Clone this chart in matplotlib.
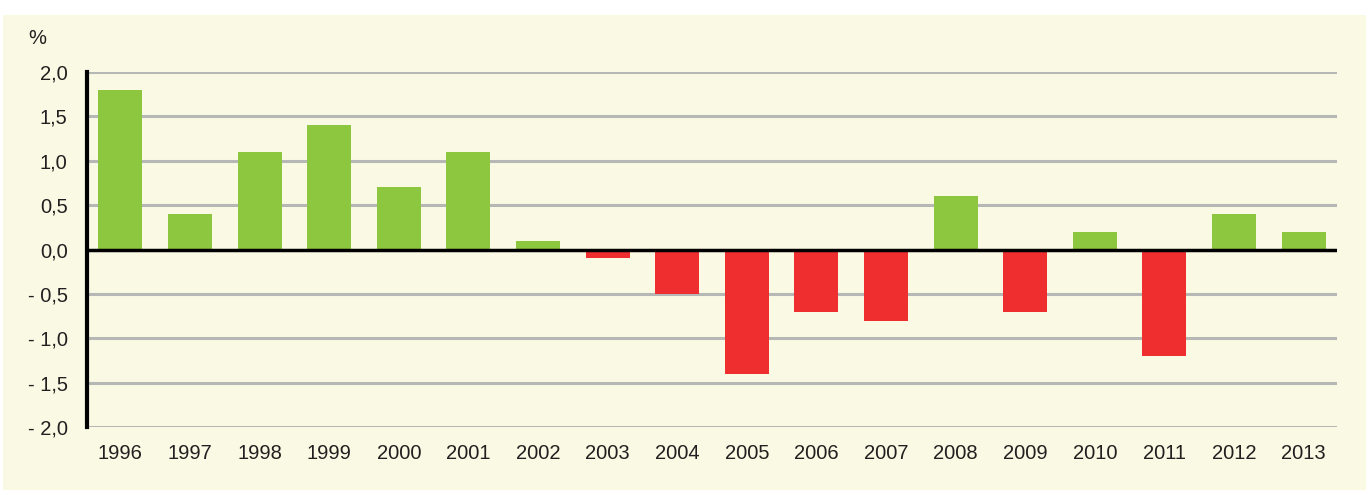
import matplotlib
matplotlib.use("Agg")
import matplotlib.pyplot as plt
from matplotlib.patches import Rectangle

plt.rcParams['font.family'] = ['Liberation Sans', 'DejaVu Sans']

# data
years = ['1996', '1997', '1998', '1999', '2000', '2001', '2002', '2003', '2004',
         '2005', '2006', '2007', '2008', '2009', '2010', '2011', '2012', '2013']
values = [1.8, 0.4, 1.1, 1.4, 0.7, 1.1, 0.1, -0.1, -0.5,
          -1.4, -0.7, -0.8, 0.6, -0.7, 0.2, -1.2, 0.4, 0.2]
yticks = [2.0, 1.5, 1.0, 0.5, 0.0, -0.5, -1.0, -1.5, -2.0]
ytick_labels = ['2,0', '1,5', '1,0', '0,5', '0,0', '- 0,5', '- 1,0', '- 1,5', '- 2,0']

GREEN = '#8DC63F'
RED = '#EE2E2F'
CREAM = '#FAF9E3'
TXT = '#231F20'

fig = plt.figure(figsize=(13.71, 4.95), dpi=100)
fig.patch.set_facecolor('white')
# cream panel behind the chart
fig.patches.append(Rectangle((3 / 1371, 5 / 495), 1363 / 1371, 475 / 495,
                             transform=fig.transFigure, facecolor=CREAM,
                             edgecolor='none', zorder=-10))

ax = fig.add_axes([87 / 1371, 68 / 495, 1250 / 1371, 355 / 495])
ax.set_facecolor(CREAM)

x = list(range(len(years)))
colors = [GREEN if v >= 0 else RED for v in values]
ax.bar(x, values, width=0.63, color=colors, zorder=3)

ax.set_ylim(-2.0, 2.0)
ax.set_xlim(-0.48, len(years) - 0.52)
ax.set_yticks(yticks)
ax.set_yticklabels(ytick_labels, fontsize=14.5, color=TXT)
ax.set_xticks(x)
ax.set_xticklabels(years, fontsize=14.5, color=TXT)
ax.tick_params(axis='x', length=0, pad=12)
ax.tick_params(axis='y', length=0, pad=14)

for y in yticks:
    if y != 0:
        ax.axhline(y, color='#B5B8B5', linewidth=2.2, zorder=1)
ax.axhline(0, color='black', linewidth=2.5, zorder=4)

for s in ['top', 'right', 'bottom']:
    ax.spines[s].set_visible(False)
ax.spines['left'].set_linewidth(3)
ax.spines['left'].set_color('black')

fig.text(37 / 1371, 1 - 38 / 495, '%', fontsize=14.5, color=TXT,
         ha='center', va='center')

fig.savefig('out.png', dpi=100, facecolor=fig.get_facecolor())
